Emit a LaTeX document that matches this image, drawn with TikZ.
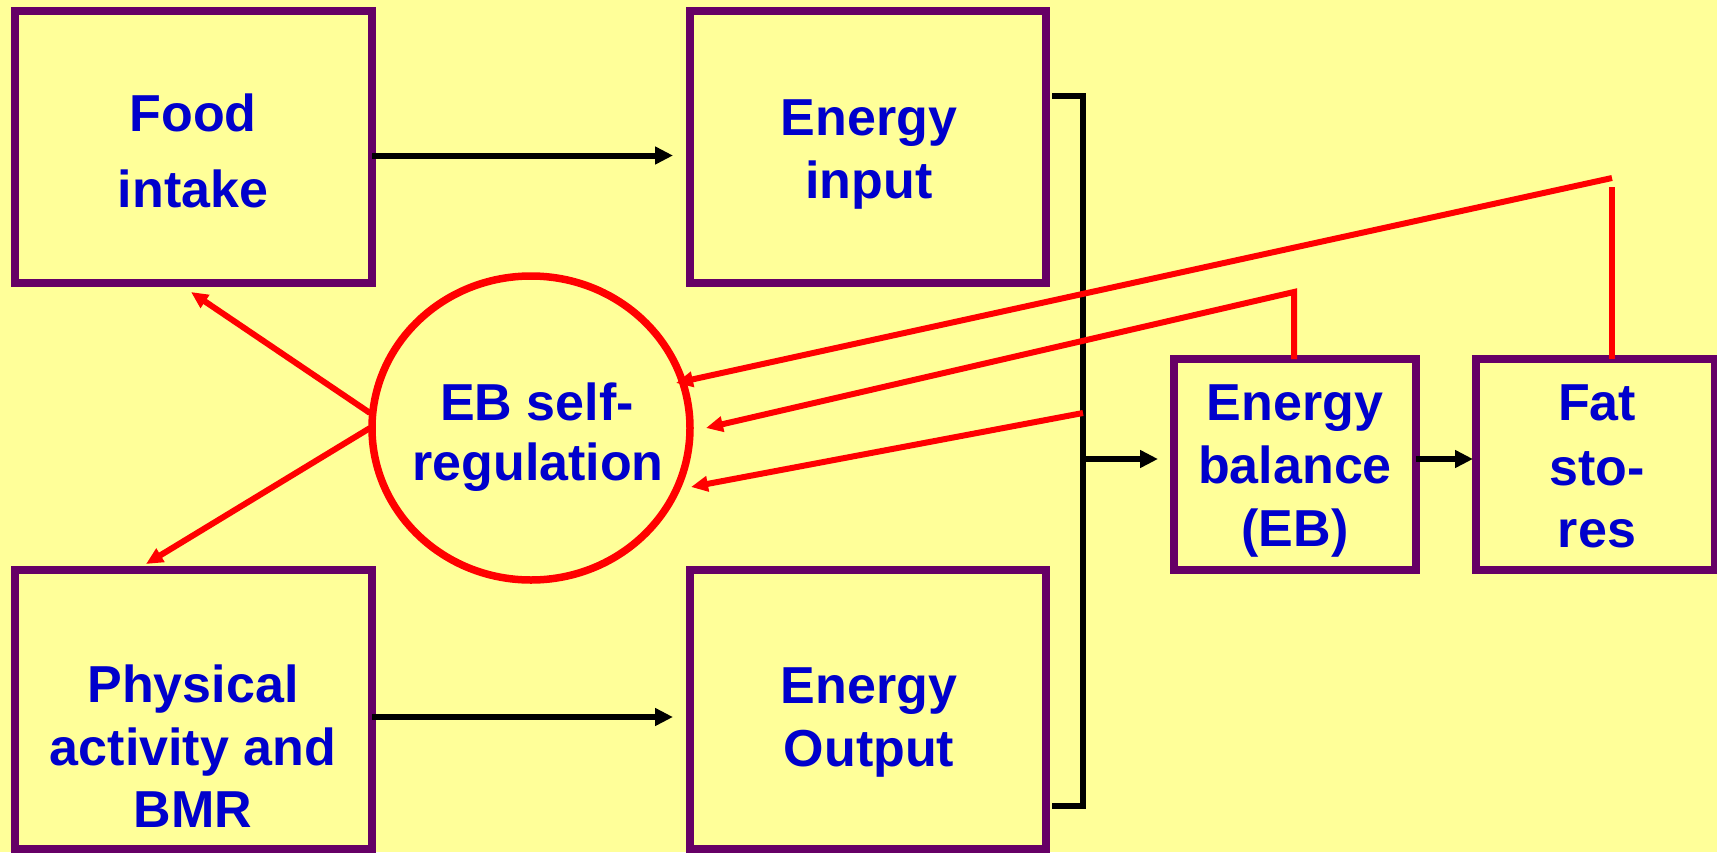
\documentclass[tikz,border=0pt]{standalone}
\usepackage{fontspec}
\setmainfont{Liberation Sans}
\usetikzlibrary{arrows.meta,shapes.geometric}
\definecolor{bgyellow}{HTML}{FFFF99}
\definecolor{boxpurple}{HTML}{660066}
\definecolor{txtblue}{HTML}{0000CC}
\definecolor{linered}{HTML}{FF0000}
\begin{document}
\begin{tikzpicture}[x=1pt,y=-1pt,
  box/.style={draw=boxpurple, line width=8pt, rectangle, inner sep=0pt, outer sep=0pt},
  lbl/.style={anchor=base, inner sep=0pt, outer sep=0pt, text=txtblue, font=\fontsize{52}{62}\selectfont\bfseries},
  blk/.style={draw=black, line width=6pt, line join=miter},
  blka/.style={blk, -{Triangle[length=18pt,width=17pt]}},
  rd/.style={draw=linered, line width=6pt},
  rda/.style={rd, -{Triangle[length=17pt,width=15pt]}},
]
\fill[bgyellow] (0,0) rectangle (1717,852);
\useasboundingbox (0,0) rectangle (1717,852);

% boxes
\node[box, minimum width=357pt, minimum height=272pt] (food) at (193.5,147) {};
\node[box, minimum width=356pt, minimum height=272pt] (einput) at (868,147) {};
\node[box, minimum width=357pt, minimum height=279pt] (phys) at (193.5,709.5) {};
\node[box, minimum width=356pt, minimum height=279pt] (eout) at (868,709.5) {};
\node[box, minimum width=242pt, minimum height=211pt] (ebal) at (1295,464.5) {};
\node[box, minimum width=239pt, minimum height=211pt] (fat) at (1595.5,464.5) {};
\node[ellipse, draw=linered, line width=7.5pt, inner sep=0pt, outer sep=0pt,
      minimum width=318pt, minimum height=304pt] (eb) at (531,428) {};

% coordinates
\coordinate (brtop) at (1083,96);
\coordinate (brbot) at (1083,806);
\coordinate (brtl) at (1052,96);
\coordinate (brbl) at (1052,806);
\coordinate (brmid) at (1083,459);
\coordinate (brred) at (1083,413);
\coordinate (fatup) at (1612,187);
\coordinate (fatbend) at (1612,178);
\coordinate (ebalbend) at (1294,292);
\coordinate (tipa) at (676,383);
\coordinate (tipb) at (706,428);
\coordinate (tipc) at (691,487);
\coordinate (taila) at (370,413);
\coordinate (tailb) at (370,428);
\coordinate (tipfood) at (191,292);
\coordinate (tipphys) at (146,564);

% black connectors
\draw[blka, shorten >=17pt] ([yshift=-8.5pt]food.east) -- ([yshift=-8.5pt]einput.west);
\draw[blka, shorten >=17pt] ([yshift=-7.5pt]phys.east) -- ([yshift=-7.5pt]eout.west);
\draw[blk] (brtl) -- (brtop) -- (brbot) -- (brbl);
\draw[blka, shorten >=16pt] (brmid) -- (brmid -| ebal.west);
\draw[blka, shorten >=3pt] (ebal.east |- brmid) -- (fat.west |- brmid);

% red connectors
\draw[rd] (fat.north -| fatup) -- (fatup);
\draw[rda] (fatbend) -- (tipa);
\draw[rda, line join=miter] (ebal.north -| ebalbend) -- (ebalbend) -- (tipb);
\draw[rda] (brred) -- (tipc);
\draw[rda] (taila) -- (tipfood);
\draw[rda] (tailb) -- (tipphys);

% labels
\node[lbl] (food1) at (193,131) {Food};
\node[lbl] (food2) at (193,207) {intake};
\node[lbl] (ein1) at (869,135) {Energy};
\node[lbl] (ein2) at (869,198) {input};
\node[lbl] (eb1) at (537,420) {EB self-};
\node[lbl] (eb2) at (538,480) {regulation};
\node[lbl] (ebal1) at (1295,420) {Energy};
\node[lbl] (ebal2) at (1295,483) {balance};
\node[lbl] (ebal3) at (1295,546) {(EB)};
\node[lbl] (fat1) at (1597,420) {Fat};
\node[lbl] (fat2) at (1597,485) {sto-};
\node[lbl] (fat3) at (1597,547) {res};
\node[lbl] (phys1) at (193,702) {Physical};
\node[lbl] (phys2) at (193,765) {activity and};
\node[lbl] (phys3) at (193,827) {BMR};
\node[lbl] (eout1) at (869,703) {Energy};
\node[lbl] (eout2) at (869,766) {Output};
\end{tikzpicture}
\end{document}
